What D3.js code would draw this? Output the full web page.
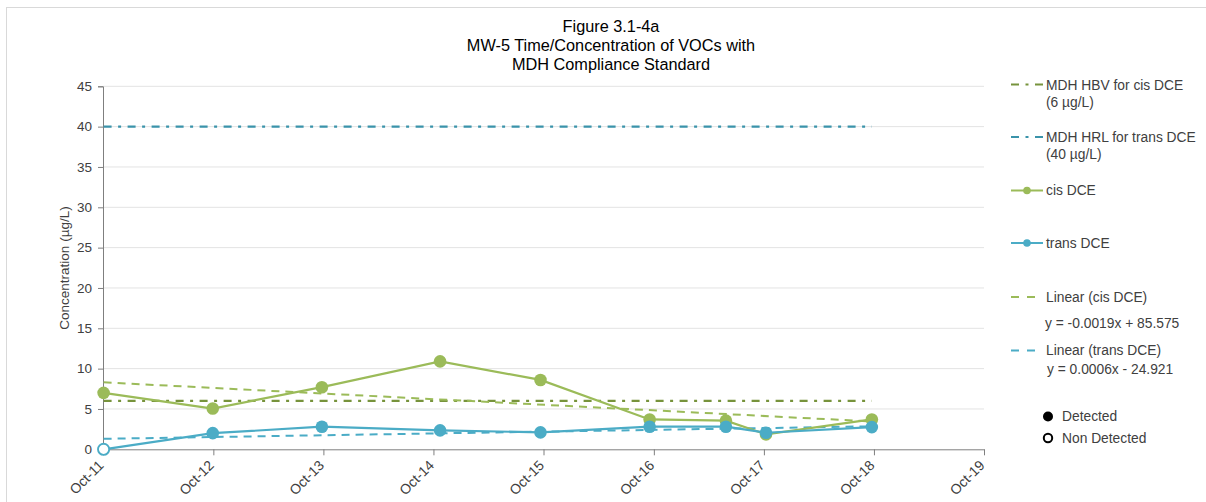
<!DOCTYPE html>
<html><head><meta charset="utf-8">
<script src="https://cdn.jsdelivr.net/npm/d3@7"></script>
<style>
body{margin:0;background:#fff;}
text{font-family:"Liberation Sans",Arial,sans-serif;fill:#404040;}
</style></head>
<body><svg id="c" width="1206" height="502"></svg>
<script>
const titleLines = ["Figure 3.1-4a","MW-5 Time/Concentration of VOCs with","MDH Compliance Standard"];
const sampleDates = ["2011-10-03","2012-09-29","2013-09-26","2014-10-23","2015-09-21","2016-09-17","2017-05-28","2017-10-08","2018-09-24"];
const cisDCE = [7.0, 5.05, 7.7, 10.9, 8.6, 3.7, 3.55, 1.85, 3.7];
const transDCE = [0, 2.0, 2.8, 2.35, 2.1, 2.8, 2.8, 2.05, 2.75];
const transDetected = [false, true, true, true, true, true, true, true, true];
const cisDetected = [true, true, true, true, true, true, true, true, true];
const cisTrend = [8.3, 3.45];
const transTrend = [1.3, 2.85];
const hbvCis = 6;
const hrlTrans = 40;
const xTickYears = [2011,2012,2013,2014,2015,2016,2017,2018,2019];
const yTicks = [0,5,10,15,20,25,30,35,40,45];
const legendLabels = ["MDH HBV for cis DCE","(6 µg/L)","MDH HRL for trans DCE","(40 µg/L)","cis DCE","trans DCE","Linear (cis DCE)","y = -0.0019x + 85.575","Linear (trans DCE)","y = 0.0006x - 24.921","Detected","Non Detected"];

const svg = d3.select("#c");
const parse = d3.timeParse("%Y-%m-%d");
const dates = sampleDates.map(parse);
const x = d3.scaleTime().domain([new Date(2011,9,1), new Date(2019,9,1)]).range([103, 984]);
const y = d3.scaleLinear().domain([0,45]).range([449.3, 86.3]);

const cGreen = "#9BBB59", cBlue = "#4BACC6", cOlive = "#77933C", cTeal = "#3A93AA";

// border
svg.append("line").attr("x1",6).attr("x2",1206).attr("y1",7.5).attr("y2",7.5).attr("stroke","#d9d9d9");
svg.append("line").attr("x1",6.5).attr("x2",6.5).attr("y1",7).attr("y2",502).attr("stroke","#d9d9d9");

// title
svg.append("g").selectAll("text").data(titleLines).join("text")
  .attr("x",611).attr("y",(d,i)=>32+i*19).attr("text-anchor","middle")
  .style("font-size","16.3px").style("fill","#000").text(d=>d);

// grid
svg.append("g").selectAll("line").data(yTicks.filter(d=>d>0)).join("line")
  .attr("x1",103).attr("x2",984).attr("y1",d=>y(d)).attr("y2",d=>y(d))
  .attr("stroke","#e3e3e3").attr("stroke-width",1);

// axes
const yAxis = svg.append("g").attr("transform","translate(103,0)")
  .call(d3.axisLeft(y).tickValues(yTicks).tickSize(5).tickPadding(6));
yAxis.select(".domain").attr("stroke","#7f7f7f");
yAxis.selectAll(".tick line").attr("stroke","#7f7f7f");
yAxis.selectAll("text").style("font-size","13.5px").style("fill","#404040").style("font-family","Liberation Sans, Arial");

const xAxis = svg.append("g").attr("transform","translate(0,449.3)")
  .call(d3.axisBottom(x).tickValues(xTickYears.map(yr=>new Date(yr,9,1))).tickFormat(d3.timeFormat("%b-%y")).tickSize(6).tickSizeOuter(0));
xAxis.select(".domain").attr("stroke","#7f7f7f");
xAxis.selectAll(".tick line").attr("stroke","#7f7f7f");
xAxis.selectAll("text").style("font-size","14px").style("fill","#404040").style("font-family","Liberation Sans, Arial")
  .attr("text-anchor","end").attr("x",0).attr("y",0).attr("dy",0).attr("transform","translate(1,17) rotate(-45)");

svg.append("text").attr("transform","translate(69,268) rotate(-90)").attr("text-anchor","middle")
  .style("font-size","13.5px").text("Concentration (µg/L)");

const x0 = x(dates[0]), x1 = x(dates[dates.length-1]);
const dashDot = "8,6.5,3,6.5";
// reference lines
svg.append("line").attr("x1",x0).attr("x2",x1).attr("y1",y(hbvCis)).attr("y2",y(hbvCis))
  .attr("stroke",cOlive).attr("stroke-width",2.2).attr("stroke-dasharray",dashDot);
svg.append("line").attr("x1",x0).attr("x2",x1).attr("y1",y(hrlTrans)).attr("y2",y(hrlTrans))
  .attr("stroke",cTeal).attr("stroke-width",2.2).attr("stroke-dasharray",dashDot);

// trend lines
svg.append("line").attr("x1",x0).attr("x2",x1).attr("y1",y(cisTrend[0])).attr("y2",y(cisTrend[1]))
  .attr("stroke",cGreen).attr("stroke-width",2).attr("stroke-dasharray","8,6");
svg.append("line").attr("x1",x0).attr("x2",x1).attr("y1",y(transTrend[0])).attr("y2",y(transTrend[1]))
  .attr("stroke",cBlue).attr("stroke-width",2).attr("stroke-dasharray","8,6");

// series
const line = d3.line().x(d=>x(d[0])).y(d=>y(d[1]));
function series(vals, det, col){
  const pts = dates.map((d,i)=>[d,vals[i],det[i]]);
  svg.append("path").attr("d",line(pts)).attr("fill","none").attr("stroke",col).attr("stroke-width",2.2);
  svg.append("g").selectAll("circle").data(pts).join("circle")
    .attr("cx",d=>x(d[0])).attr("cy",d=>y(d[1])).attr("r",d=>d[2]?6.3:5.6)
    .attr("fill",d=>d[2]?col:"#fff").attr("stroke",col).attr("stroke-width",d=>d[2]?0:1.9);
}
series(cisDCE, cisDetected, cGreen);
series(transDCE, transDetected, cBlue);

// legend
const lg = svg.append("g");
const fs = "13.8px";
function ltext(tx,ty,t){ lg.append("text").attr("x",tx).attr("y",ty).attr("dy","0.35em").style("font-size",fs).text(t); }
lg.append("line").attr("x1",1011).attr("x2",1044).attr("y1",84.5).attr("y2",84.5).attr("stroke",cOlive).attr("stroke-width",2).attr("stroke-dasharray","8,6.5,3,6.5");
ltext(1046,85,legendLabels[0]); ltext(1046,102,legendLabels[1]);
lg.append("line").attr("x1",1011).attr("x2",1044).attr("y1",137).attr("y2",137).attr("stroke",cTeal).attr("stroke-width",2).attr("stroke-dasharray","8,6.5,3,6.5");
ltext(1046,137,legendLabels[2]); ltext(1046,154,legendLabels[3]);
lg.append("line").attr("x1",1011).attr("x2",1043).attr("y1",190.5).attr("y2",190.5).attr("stroke",cGreen).attr("stroke-width",2);
lg.append("circle").attr("cx",1027).attr("cy",190.5).attr("r",3.8).attr("fill",cGreen);
ltext(1046,190.5,legendLabels[4]);
lg.append("line").attr("x1",1011).attr("x2",1043).attr("y1",243).attr("y2",243).attr("stroke",cBlue).attr("stroke-width",2);
lg.append("circle").attr("cx",1027).attr("cy",243).attr("r",3.8).attr("fill",cBlue);
ltext(1046,243,legendLabels[5]);
lg.append("line").attr("x1",1011).attr("x2",1035).attr("y1",297).attr("y2",297).attr("stroke",cGreen).attr("stroke-width",2).attr("stroke-dasharray","8,8");
ltext(1046,297,legendLabels[6]); ltext(1045,323,legendLabels[7]);
lg.append("line").attr("x1",1011).attr("x2",1035).attr("y1",350.5).attr("y2",350.5).attr("stroke",cBlue).attr("stroke-width",2).attr("stroke-dasharray","8,8");
ltext(1046,350,legendLabels[8]); ltext(1047,369,legendLabels[9]);
lg.append("circle").attr("cx",1048).attr("cy",416.5).attr("r",5).attr("fill","#000");
ltext(1062,416.5,legendLabels[10]);
lg.append("circle").attr("cx",1048).attr("cy",438).attr("r",4.2).attr("fill","#fff").attr("stroke","#000").attr("stroke-width",2);
ltext(1062,438,legendLabels[11]);
</script></body></html>
